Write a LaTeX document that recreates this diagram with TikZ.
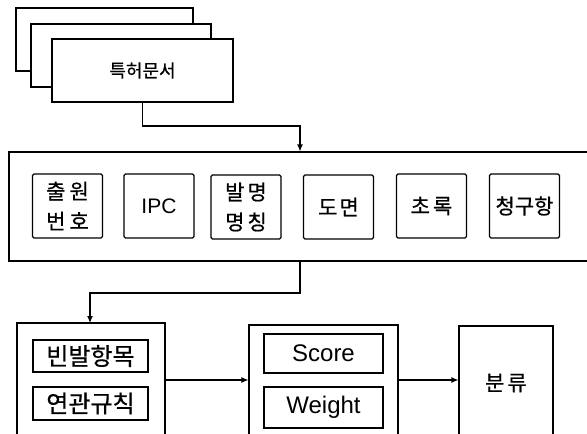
\documentclass[tikz,border=0pt]{standalone}
\usepackage{fontspec}
\setmainfont{Liberation Sans}
\newfontfamily\kr[FakeBold=0.6]{Noto Sans CJK KR}
\usetikzlibrary{arrows.meta}
\begin{document}
\begin{tikzpicture}[x=1pt,y=-1pt,
  outer/.style={draw, line width=1.1pt, fill=white, inner sep=0pt},
  field/.style={draw, line width=1.1pt, rounded corners=1.5pt, inner sep=0pt,
    minimum width=70pt, minimum height=64pt, align=center,
    font=\kr\fontsize{21}{30}\selectfont},
  bar/.style={draw, line width=1.1pt, inner sep=0pt, minimum width=115pt, align=center},
  arr/.style={line width=1.1pt, -{Latex[length=7pt,width=6pt]}},
]
\useasboundingbox (0,0) rectangle (587,434);
\clip (0,0) rectangle (587,434);
% stacked documents
\node[outer, minimum width=177pt, minimum height=63pt] (doc3) at (104.5,39.5) {};
\node[outer, minimum width=180pt, minimum height=63pt] (doc2) at (121,55.5) {};
\node[outer, minimum width=181pt, minimum height=63pt, font=\kr\fontsize{18}{20}\selectfont] (doc1) at (142.5,70.5) {특허문서};
% big field box
\node[outer, minimum width=591pt, minimum height=109pt] (big) at (304.5,206.5) {};
\node[field] (f1) at (67.5,206) {출\hspace{4pt}원\\번\hspace{4pt}호};
\node[field, font=\fontsize{21}{24}\selectfont] (f2) at (159,206) {IPC};
\node[field] (f3) at (246,207) {발\hspace{3pt}명\\명\hspace{3pt}칭};
\node[field] (f4) at (338.5,207) {도\hspace{2pt}면};
\node[field] (f5) at (431.5,206) {초\hspace{3pt}록};
\node[field] (f6) at (524.5,206) {청구항};
% connectors top
\coordinate (j1) at (300,126);
\draw[arr] (doc1.south) |- (j1) -- (j1 |- big.north);
\coordinate (j2) at (90,293);
\draw[arr] (j1 |- big.south) |- (j2) -- (j2 |- 0,323);
% lower boxes
\node[outer, minimum width=148pt, minimum height=117pt] (lb) at (91,381.5) {};
\node[bar, minimum height=32pt, font=\kr\fontsize{24}{26}\selectfont] (b1) at (90.5,356) {빈발항목};
\node[bar, minimum height=33pt, font=\kr\fontsize{24}{26}\selectfont] (b2) at (90.5,403.5) {연관규칙};
\node[outer, minimum width=149pt, minimum height=115pt] (mb) at (323.5,382.5) {};
\node[bar, minimum width=119pt, minimum height=39pt, font=\fontsize{24}{26}\selectfont] (s1) at (323.5,353.5) {Score};
\node[bar, minimum width=119pt, minimum height=41pt, font=\fontsize{24}{26}\selectfont] (s2) at (323.5,407.5) {Weight};
\node[outer, minimum width=94pt, minimum height=114pt, font=\kr\fontsize{21}{22}\selectfont] (rb) at (506,383) {분\hspace{3pt}류};
\coordinate (ay) at (0,380);
\draw[arr] (lb.east |- ay) -- (mb.west |- ay);
\draw[arr] (mb.east |- ay) -- (rb.west |- ay);
\end{tikzpicture}
\end{document}
